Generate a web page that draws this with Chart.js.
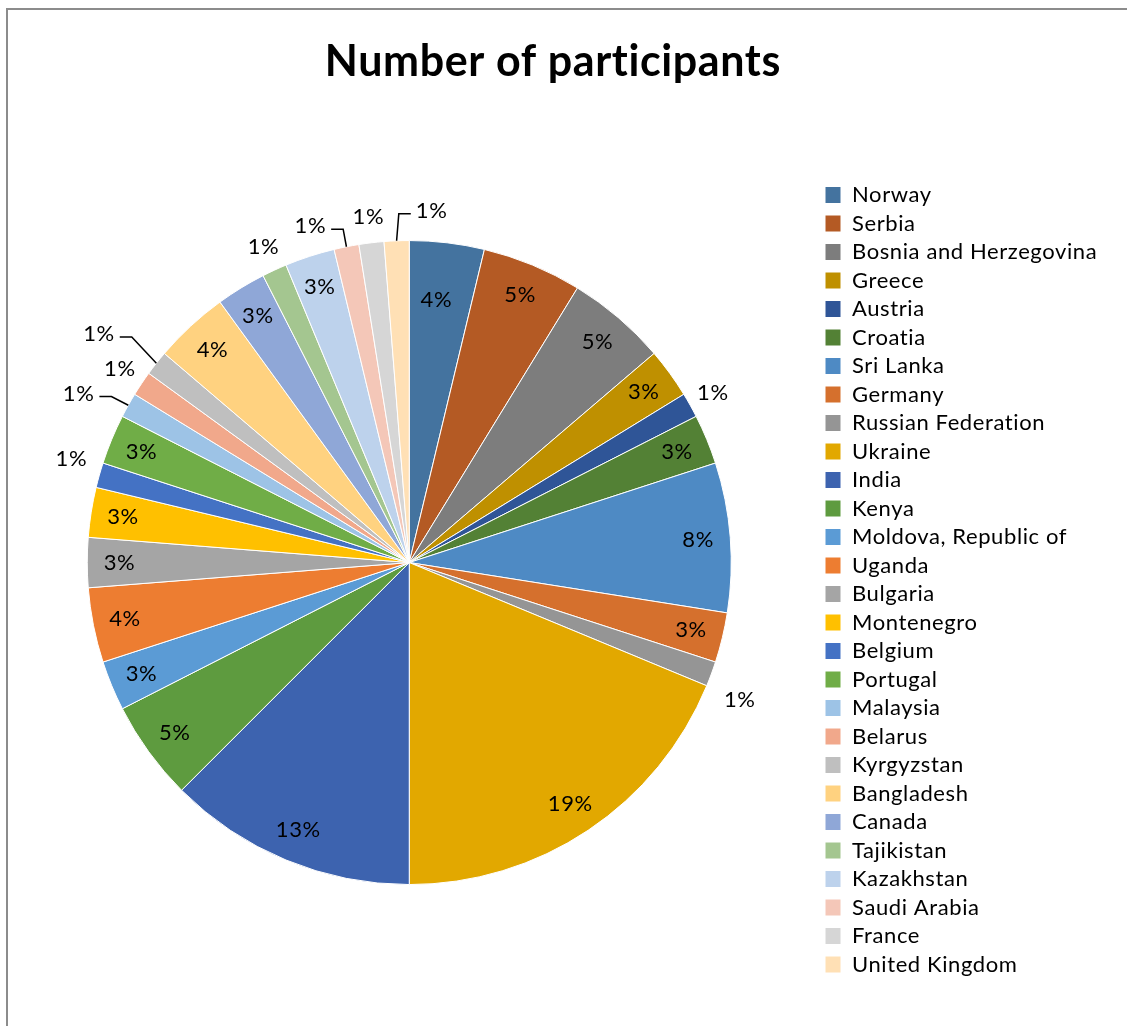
<!DOCTYPE html>
<html>
<head>
<meta charset="utf-8">
<title>Number of participants</title>
<script src="https://cdn.jsdelivr.net/npm/chart.js@4.4.1/dist/chart.umd.min.js"></script>
<style>
  html, body { margin: 0; padding: 0; background: #fff; }
  #wrap { position: relative; width: 1127px; height: 1026px; overflow: hidden; }
  #frame {
    position: absolute; left: 6px; top: 8px; right: 0; bottom: 0;
    border-top: 2px solid #8c8c8c; border-left: 2px solid #8c8c8c;
    pointer-events: none;
  }
</style>
</head>
<body>
<div id="wrap">
  <canvas id="chart" width="1127" height="1026"></canvas>
  <div id="frame"></div>
</div>
<script>
const countries = [
  'Norway', 'Serbia', 'Bosnia and Herzegovina', 'Greece', 'Austria', 'Croatia',
  'Sri Lanka', 'Germany', 'Russian Federation', 'Ukraine', 'India', 'Kenya',
  'Moldova, Republic of', 'Uganda', 'Bulgaria', 'Montenegro', 'Belgium', 'Portugal',
  'Malaysia', 'Belarus', 'Kyrgyzstan', 'Bangladesh', 'Canada', 'Tajikistan',
  'Kazakhstan', 'Saudi Arabia', 'France', 'United Kingdom'
];
const participants = [
  3, 4, 4, 2, 1, 2,
  6, 2, 1, 15, 10, 4,
  2, 3, 2, 2, 1, 2,
  1, 1, 1, 3, 2, 1,
  2, 1, 1, 1
];

const sliceColors = [
  '#44739F', '#B45A24', '#7D7D7D', '#BF9000', '#2F5597', '#538135',
  '#4E8AC4', '#D5702D', '#959595', '#E2A800', '#3D63AF', '#5E9B3F',
  '#5B9BD5', '#ED7D31', '#A5A5A5', '#FFC000', '#4472C4', '#70AD47',
  '#9DC3E6', '#F1A88B', '#BFBFBF', '#FFD280', '#8FA7D7', '#A4C690',
  '#BDD2EC', '#F4C7B8', '#D6D6D6', '#FFE0B5'
];

const FONT = 'Lato, "Open Sans", sans-serif';
const LABEL_SIZE = 22;
const SPACING = '0.6px';

// small slices whose label sits away from its spot get a leader line back to the arc
const labelNudge = {
  0: { dx: -7, dy: 25 },
  8: { dx: 4, dy: 17 },
  16: { dx: -3, dy: -9 },
  18: { dx: -27, dy: 1, leader: true },
  20: { dx: -37, dy: -13, leader: true },
  25: { dx: -31, dy: 5, leader: true },
  27: { dx: 36, dy: -4, leader: true }
};

// slightly open lettering, also keeps "ti" from joining into a ligature
const letterSpacing = {
  id: 'letterSpacing',
  beforeUpdate(chart) {
    chart.ctx.letterSpacing = SPACING;
  }
};

const pctLabels = {
  id: 'pctLabels',
  afterDatasetsDraw(chart) {
    const ctx = chart.ctx;
    const meta = chart.getDatasetMeta(0);
    const values = chart.data.datasets[0].data;
    const total = values.reduce((a, b) => a + b, 0);
    ctx.save();
    ctx.font = LABEL_SIZE + 'px ' + FONT;
    ctx.fillStyle = '#000';
    ctx.strokeStyle = '#000';
    ctx.lineWidth = 1.5;
    ctx.textAlign = 'center';
    ctx.textBaseline = 'middle';
    meta.data.forEach((arc, i) => {
      const p = arc.getProps(['x', 'y', 'startAngle', 'endAngle', 'outerRadius'], true);
      const mid = (p.startAngle + p.endAngle) / 2;
      const pct = Math.round(values[i] * 100 / total);
      const r = pct < 2 ? p.outerRadius + 26 : p.outerRadius * 0.9;
      const nudge = labelNudge[i] || {};
      const lx = p.x + Math.cos(mid) * r + (nudge.dx || 0);
      const ly = p.y + Math.sin(mid) * r + (nudge.dy || 0);
      const text = pct + '%';
      ctx.fillText(text, lx, ly);
      if (nudge.leader) {
        const half = ctx.measureText(text).width / 2;
        const dir = nudge.dx < 0 ? 1 : -1;
        const lineY = ly + 3;
        ctx.beginPath();
        ctx.moveTo(lx + dir * (half + 5), lineY);
        ctx.lineTo(lx + dir * (half + 17), lineY);
        ctx.lineTo(p.x + Math.cos(mid) * p.outerRadius, p.y + Math.sin(mid) * p.outerRadius);
        ctx.stroke();
      }
    });
    ctx.restore();
  }
};

// legend column: boxes start at x = 825, pie centred at x = 410
const legendPad = 6.5;
const probe = document.createElement('canvas').getContext('2d');
probe.font = LABEL_SIZE + 'px ' + FONT;
probe.letterSpacing = SPACING;
const widest = Math.max(...countries.map(c => probe.measureText(c).width));
const legendWidth = legendPad + 16 + LABEL_SIZE / 2 + widest + 10;
const legendLeft = 825 - legendPad;
const padRight = Math.max(0, 1127 - legendLeft - legendWidth);

new Chart(document.getElementById('chart').getContext('2d'), {
  type: 'pie',
  data: {
    labels: countries,
    datasets: [{
      data: participants,
      backgroundColor: sliceColors,
      borderColor: '#ffffff',
      borderWidth: 1
    }]
  },
  options: {
    responsive: false,
    animation: false,
    radius: 322,
    layout: {
      padding: { left: legendLeft - 820, right: padRight, top: 0, bottom: 44 }
    },
    plugins: {
      tooltip: { enabled: false },
      title: {
        display: true,
        text: 'Number of participants',
        color: '#000',
        font: { family: FONT, size: 43, weight: 'bold', lineHeight: 1.2 },
        padding: { top: 36, bottom: 55.5 }
      },
      legend: {
        position: 'right',
        align: 'end',
        labels: {
          boxWidth: 16,
          boxHeight: 17,
          padding: legendPad,
          color: '#000',
          font: { family: FONT, size: LABEL_SIZE }
        }
      }
    }
  },
  plugins: [letterSpacing, pctLabels]
});
</script>
</body>
</html>
